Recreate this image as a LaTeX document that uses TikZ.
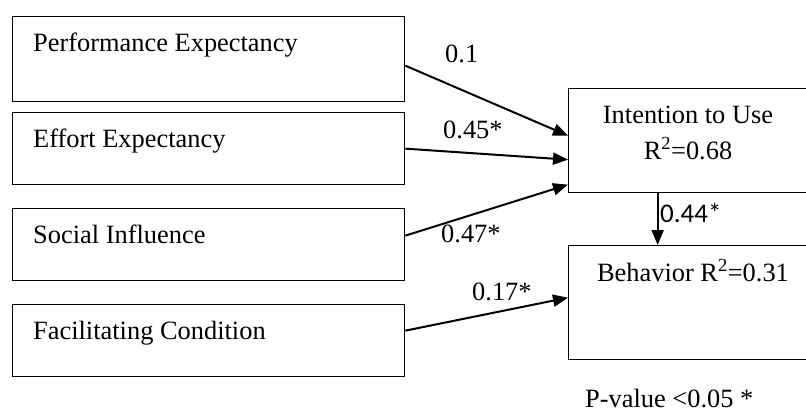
\documentclass[tikz,border=0pt]{standalone}
\usepackage{fontspec}
\setmainfont{Liberation Serif}
\newfontfamily\calibri{Carlito}
\usetikzlibrary{arrows.meta}

\begin{document}
\begin{tikzpicture}[x=1pt,y=-1pt,
  box/.style={draw,line width=1.3pt,anchor=north west,inner sep=0pt},
  txt/.style={font=\fontsize{26.4}{30}\selectfont,inner sep=0pt},
  link/.style={line width=2pt,-{Triangle[length=15pt,width=12pt]}}]
\useasboundingbox (0,0) rectangle (806,412);
\clip (0,0) rectangle (806,412);
\node[box,minimum width=392,minimum height=85] (pe) at (12,16) {};
\node[box,minimum width=392,minimum height=72] (ee) at (12,112) {};
\node[box,minimum width=392,minimum height=72] (si) at (12,208) {};
\node[box,minimum width=392,minimum height=72] (fc) at (12,304) {};
\node[box,minimum width=240,minimum height=104] (itu) at (568,88) {};
\node[box,minimum width=240,minimum height=114] (bh) at (568,245) {};
\node[txt,anchor=base west] (pelbl) at (33,52) {Performance Expectancy};
\node[txt,anchor=base west] (eelbl) at (33,147) {Effort Expectancy};
\node[txt,anchor=base west] (silbl) at (33,243) {Social Influence};
\node[txt,anchor=base west] (fclbl) at (33,339) {Facilitating Condition};
\node[txt,anchor=base] (itulbl) at (688,123) {Intention to Use};
\node[txt,anchor=base] (itursq) at (688,159) {R\textsuperscript{2}=0.68};
\node[txt,anchor=base] (bhlbl) at (693,281) {Behavior R\textsuperscript{2}=0.31};
\draw[link] ([yshift=-6.5]pe.east) -- ([yshift=5]itu.west);
\draw[link] (ee.east) -- ([yshift=-19]itu.west);
\draw[link] ([yshift=9]si.east) -- ([yshift=-44]itu.west);
\draw[link] ([yshift=10]fc.east) -- ([yshift=5]bh.west);
\draw[link] ([xshift=-31]itu.south) -- ([xshift=-31]bh.north);
\node[txt,anchor=base west] (wpe) at (445,63) {0.1};
\node[txt,anchor=base west] (wee) at (443,138) {0.45*};
\node[txt,anchor=base west] (wsi) at (441,242) {0.47*};
\node[txt,anchor=base west] (wfc) at (472,300) {0.17*};
\node[txt,anchor=base west,font=\calibri\fontsize{27}{30}\selectfont] (wbh) at (660,222) {0.44*};
\node[txt,anchor=base west] (pval) at (585,407) {P-value <0.05 *};
\end{tikzpicture}
\end{document}
